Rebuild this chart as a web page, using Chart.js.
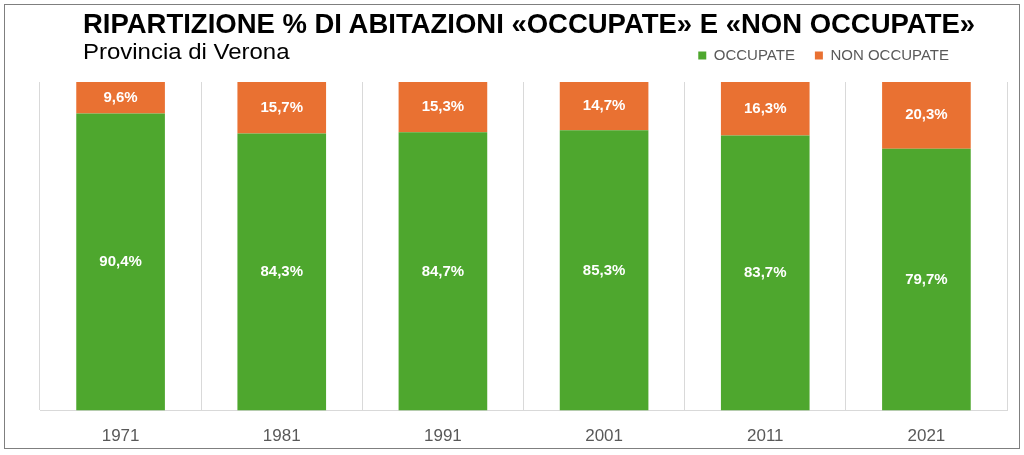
<!DOCTYPE html>
<html>
<head>
<meta charset="utf-8">
<script src="https://cdn.jsdelivr.net/npm/chart.js@4"></script>
<style>
  body { margin: 0; background: #fff; }
  #wrap { position: relative; width: 1024px; height: 455px; overflow: hidden; }
  #frame { position: absolute; left: 4px; top: 4px; width: 1014px; height: 443px; border: 1.5px solid #7f7f7f; }
  #title { position: absolute; left: 83px; top: 8px; white-space: nowrap; transform-origin: 0 0;
           font-family: "Liberation Sans", Arial, sans-serif; font-weight: bold;
           font-size: 28px; line-height: 32px; color: #000; }
  #subtitle { position: absolute; left: 83px; top: 39px; white-space: nowrap; transform-origin: 0 0;
              font-family: "Liberation Sans", Arial, sans-serif; font-size: 22px; line-height: 26px; color: #000; }
  canvas { position: absolute; left: 0; top: 0; }
</style>
</head>
<body>
<div id="wrap">
  <div id="frame"></div>
  <canvas id="chart" width="1024" height="474"></canvas>
  <div id="title">RIPARTIZIONE % DI ABITAZIONI «OCCUPATE» E «NON OCCUPATE»</div>
  <div id="subtitle">Provincia di Verona</div>
</div>
<script>
// Data
var years = ['1971', '1981', '1991', '2001', '2011', '2021'];
var occupate = [90.4, 84.3, 84.7, 85.3, 83.7, 79.7];
var nonOccupate = [9.6, 15.7, 15.3, 14.7, 16.3, 20.3];

// stretch title and subtitle to the width they have in the picture
function fitWidth(id, w) {
  var el = document.getElementById(id);
  el.style.transform = 'scaleX(' + (w / el.offsetWidth) + ')';
}
fitWidth('title', 892);
fitWidth('subtitle', 207);

function formatPct(v) {
  return v.toFixed(1).replace('.', ',') + '%';
}

// Draw the value labels inside each segment
var valueLabels = {
  id: 'valueLabels',
  afterDatasetsDraw: function(chart) {
    var ctx = chart.ctx;
    ctx.save();
    ctx.font = 'bold 15px "Liberation Sans", Arial, sans-serif';
    ctx.fillStyle = '#ffffff';
    ctx.textAlign = 'center';
    ctx.textBaseline = 'middle';
    chart.data.datasets.forEach(function(ds, i) {
      chart.getDatasetMeta(i).data.forEach(function(bar, j) {
        var mid = (bar.y + bar.base) / 2;
        ctx.fillText(formatPct(ds.data[j]), bar.x, mid);
      });
    });
    ctx.restore();
  }
};

// Move the legend left and up a bit
var legendShift = {
  id: 'legendShift',
  afterLayout: function(chart) {
    chart.legend.left -= 38;
    chart.legend.right -= 38;
    chart.legend.top -= 9;
    chart.legend.bottom -= 9;
  }
};

var ctx = document.getElementById('chart').getContext('2d');
window.myChart = new Chart(ctx, {
  type: 'bar',
  data: {
    labels: years,
    datasets: [{
      label: 'OCCUPATE',
      data: occupate,
      backgroundColor: '#4EA72E',
      barPercentage: 0.55,
      categoryPercentage: 1
    }, {
      label: 'NON OCCUPATE',
      data: nonOccupate,
      backgroundColor: '#E97132',
      barPercentage: 0.55,
      categoryPercentage: 1
    }]
  },
  options: {
    responsive: false,
    devicePixelRatio: 1,
    animation: false,
    layout: { padding: { left: 40, right: 17, top: 37, bottom: 11 } },
    plugins: {
      legend: {
        position: 'top',
        align: 'end',
        labels: {
          boxWidth: 8,
          boxHeight: 8,
          color: '#595959',
          font: { family: '"Liberation Sans", Arial, sans-serif', size: 15 },
          padding: 20
        }
      },
      tooltip: { enabled: false }
    },
    scales: {
      x: {
        stacked: true,
        grid: { color: '#d9d9d9', drawTicks: false },
        border: { color: '#d9d9d9' },
        ticks: {
          color: '#595959',
          padding: 16,
          font: { family: '"Liberation Sans", Arial, sans-serif', size: 17 }
        }
      },
      y: {
        stacked: true,
        display: false,
        min: 0,
        max: 100
      }
    }
  },
  plugins: [valueLabels, legendShift]
});
</script>
</body>
</html>
